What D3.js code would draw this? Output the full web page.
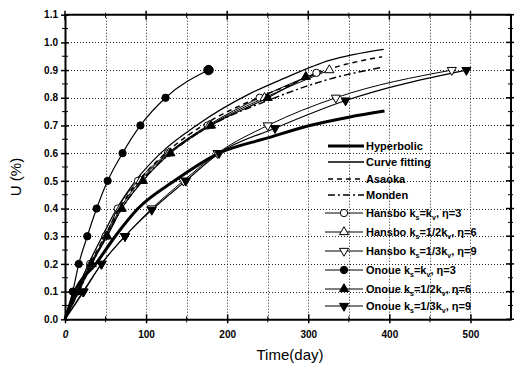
<!DOCTYPE html>
<html><head><meta charset="utf-8">
<script src="https://cdn.jsdelivr.net/npm/d3@7"></script>
<style>
html,body{margin:0;padding:0;background:#fff;}
text{font-family:"Liberation Sans",Arial,sans-serif;}
</style></head>
<body><svg id="c" width="523" height="373"></svg>
<script>
// ---------- data ----------
const xTicks = [0,100,200,300,400,500];
const yTicks = [0,0.1,0.2,0.3,0.4,0.5,0.6,0.7,0.8,0.9,1.0,1.1];
const hyperbolic   = [[0,0],[12,0.1],[38,0.2],[62,0.3],[90,0.4],[135,0.5],[190,0.6],[250,0.655],[302,0.70],[350,0.73],[394,0.752]];
const curveFitting = [[0,0],[14,0.1],[29,0.2],[46,0.3],[64,0.4],[87,0.5],[118,0.6],[162,0.7],[228,0.815],[270,0.87],[326,0.935],[393,0.975]];
const asaoka       = [[0,0],[16,0.1],[31,0.2],[49,0.3],[67,0.4],[91,0.5],[124,0.6],[170,0.7],[238,0.8],[280,0.85],[322,0.9],[391,0.948]];
const monden       = [[0,0],[17,0.1],[33,0.2],[51,0.3],[70,0.4],[95,0.5],[130,0.6],[180,0.7],[250,0.79],[322,0.864],[391,0.91]];
const hansbo3      = [[0,0],[15,0.1],[31,0.2],[50,0.3],[65,0.4],[90,0.5],[127,0.6],[176,0.7],[240,0.8],[310,0.89]];
const hansbo6      = [[0,0],[16,0.1],[32,0.2],[51,0.3],[68,0.4],[93,0.5],[128,0.6],[178,0.7],[246,0.8],[326,0.9]];
const hansbo9      = [[0,0],[22,0.1],[45,0.2],[74,0.3],[107,0.4],[146,0.5],[188,0.6],[250,0.7],[334,0.8],[477,0.9]];
const onoue3       = [[0,0],[9.5,0.1],[17,0.2],[27.5,0.3],[39,0.4],[52.6,0.5],[71,0.6],[93,0.7],[124,0.8],[177,0.9]];
const onoue6       = [[0,0],[17,0.1],[33,0.2],[52,0.3],[70,0.4],[96,0.5],[130,0.6],[180,0.7],[250,0.8],[297,0.876]];
const onoue9       = [[0,0],[23,0.1],[45,0.2],[74,0.3],[107,0.395],[149,0.5],[190,0.6],[259,0.69],[346,0.79],[495,0.9]];

const series = [
  {name:"Hyperbolic", data:hyperbolic, width:3, dash:null, marker:null},
  {name:"Curve fitting", data:curveFitting, width:1.3, dash:null, marker:null},
  {name:"Asaoka", data:asaoka, width:1.5, dash:"5,4", marker:null},
  {name:"Monden", data:monden, width:1.5, dash:"7,3,2,3", marker:null},
  {name:["Hansbo k","s","=k","v",", η=3"], data:hansbo3, width:1, marker:"circle", fill:"#fff"},
  {name:["Hansbo k","s","=1/2k","v",", η=6"], data:hansbo6, width:1, marker:"up", fill:"#fff"},
  {name:["Hansbo k","s","=1/3k","v",", η=9"], data:hansbo9, width:1, marker:"down", fill:"#fff"},
  {name:["Onoue k","s","=k","v",", η=3"], data:onoue3, width:1.2, marker:"circle", fill:"#000"},
  {name:["Onoue k","s","=1/2k","v",", η=6"], data:onoue6, width:1.2, marker:"up", fill:"#000"},
  {name:["Onoue k","s","=1/3k","v",", η=9"], data:onoue9, width:1.2, marker:"down", fill:"#000"}
];

// ---------- chart ----------
const svg = d3.select("#c");
const L=65, R=511, T=14.7, B=319.3;
const x = d3.scaleLinear().domain([0,550]).range([L,R]);
const y = d3.scaleLinear().domain([0,1.1]).range([B,T]);

// grid
const grid = svg.append("g").attr("stroke","#222").attr("stroke-width",1).attr("stroke-dasharray","1,2");
d3.range(50,550,50).forEach(v=>{
  grid.append("line").attr("x1",Math.round(x(v))+0.5).attr("x2",Math.round(x(v))+0.5).attr("y1",T).attr("y2",B);
});
d3.range(1,11).forEach(i=>{
  const v=i/10;
  grid.append("line").attr("x1",L).attr("x2",R).attr("y1",Math.round(y(v))+0.5).attr("y2",Math.round(y(v))+0.5);
});

// axes
const xAxis = d3.axisBottom(x).tickValues(xTicks).tickFormat(d3.format("d")).tickSizeInner(4).tickSizeOuter(0);
const gx = svg.append("g").attr("transform",`translate(0,${B})`).call(xAxis);
gx.select(".domain").attr("stroke-width",2);
gx.selectAll(".tick line").attr("y1",-5).attr("y2",4).attr("stroke-width",1.5);
gx.selectAll(".tick text").attr("dy","1.2em").style("font-size","10px").style("font-weight","bold").attr("fill","#000");
gx.selectAll(".tick text").filter(d=>d===0).style("font-style","italic");

const yAxis = d3.axisLeft(y).tickValues(yTicks).tickFormat(d3.format(".1f")).tickSizeInner(4).tickSizeOuter(0);
const gy = svg.append("g").attr("transform",`translate(${L},0)`).call(yAxis);
gy.select(".domain").attr("stroke-width",2);
gy.selectAll(".tick line").attr("x1",-4).attr("x2",4).attr("stroke-width",1.5);
gy.selectAll(".tick text").attr("x",-7).style("font-size","10px").style("font-weight","bold").attr("fill","#000");

// minor ticks
const minor = svg.append("g").attr("stroke","#000").attr("stroke-width",1);
d3.range(50,550,100).forEach(v=>{
  minor.append("line").attr("x1",x(v)).attr("x2",x(v)).attr("y1",B-3).attr("y2",B+3);
  minor.append("line").attr("x1",x(v)).attr("x2",x(v)).attr("y1",T-2).attr("y2",T+3);
});
d3.range(0.05,1.1,0.1).forEach(v=>{
  minor.append("line").attr("x1",L-3).attr("x2",L+3).attr("y1",y(v)).attr("y2",y(v));
  minor.append("line").attr("x1",R-3).attr("x2",R+2).attr("y1",y(v)).attr("y2",y(v));
});
// top / right frame
svg.append("line").attr("x1",L).attr("x2",R).attr("y1",T).attr("y2",T).attr("stroke","#000").attr("stroke-width",2);
svg.append("line").attr("x1",R).attr("x2",R).attr("y1",T).attr("y2",B).attr("stroke","#000").attr("stroke-width",2);
xTicks.forEach(v=>{
  svg.append("line").attr("x1",x(v)).attr("x2",x(v)).attr("y1",T-4).attr("y2",T+5).attr("stroke","#000").attr("stroke-width",1.5);
});
yTicks.forEach(v=>{
  svg.append("line").attr("x1",R-5).attr("x2",R+3).attr("y1",y(v)).attr("y2",y(v)).attr("stroke","#000").attr("stroke-width",1.5);
});

// symbols
function symPath(kind, big){
  if(kind==="circle") return d3.symbol(d3.symbolCircle, big?70:42)();
  return d3.symbol(d3.symbolTriangle,36)();
}
function drawMarker(g,kind,fill,px,py,big){
  g.append("path").attr("d",symPath(kind,big))
    .attr("transform",`translate(${px},${py})${kind==="down"?" rotate(180)":""}`)
    .attr("fill",fill).attr("stroke","#000").attr("stroke-width",1);
}

const line = d3.line().x(d=>x(d[0])).y(d=>y(d[1])).curve(d3.curveMonotoneX);
const plot = svg.append("g");
series.forEach(s=>{
  plot.append("path").datum(s.data).attr("d",line).attr("fill","none")
    .attr("stroke","#000").attr("stroke-width",s.width).attr("stroke-dasharray",s.dash);
});
series.filter(s=>s.marker).forEach(s=>{
  const pts = s.data.slice(1);
  pts.forEach((d,k)=>drawMarker(plot,s.marker,s.fill,x(d[0]),y(d[1]), s.data===onoue3 && k===pts.length-1));
});

// legend
const legY = [146,162,179,195,213,232,251,270,289,306];
const lg = svg.append("g");
series.forEach((s,i)=>{
  const yy = legY[i];
  lg.append("line").attr("x1",s.marker?325:328).attr("x2",s.marker?363:364).attr("y1",yy).attr("y2",yy)
    .attr("stroke","#000").attr("stroke-width",s.width).attr("stroke-dasharray",s.dash);
  if(s.marker) drawMarker(lg,s.marker,s.fill,344,yy,false);
  const t = lg.append("text").attr("x",366).attr("y",yy+4).style("font-size","11px").style("font-weight","bold");
  if(typeof s.name==="string"){ t.text(s.name); }
  else {
    s.name.forEach((part,j)=>{
      const ts=t.append("tspan").text(part);
      if(j%2===1){ ts.attr("dy",3).style("font-size","7px"); }
      else if(j>0){ ts.attr("dy",-3); }
    });
  }
});

// axis titles
svg.append("text").attr("x",290).attr("y",360).attr("text-anchor","middle").style("font-size","15px").text("Time(day)");
svg.append("text").attr("transform","translate(21,177) rotate(-90)").attr("text-anchor","middle").style("font-size","15px").text("U (%)");
</script></body></html>
